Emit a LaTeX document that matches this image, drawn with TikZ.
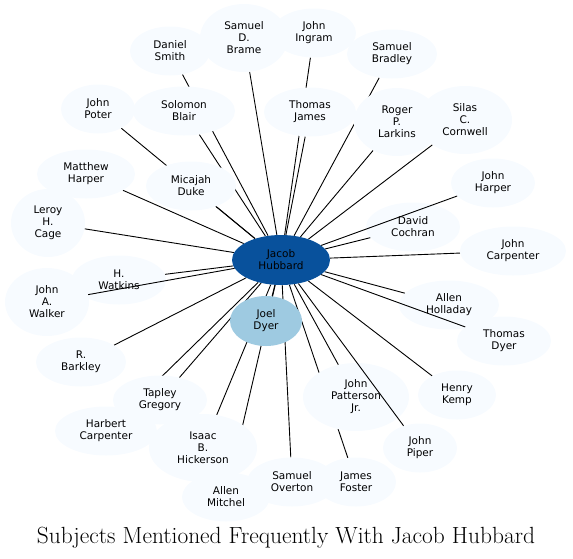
\documentclass[tikz,border=0pt]{standalone}
\usepackage{fontspec}
\setsansfont{DejaVu Sans}
\usetikzlibrary{shapes.geometric}
\pgfdeclarelayer{background}
\pgfsetlayers{background,main}
\definecolor{paleblue}{HTML}{F7FBFF}
\definecolor{hubblue}{HTML}{08519C}
\definecolor{joelblue}{HTML}{9ECAE1}

\begin{document}
\begin{tikzpicture}[
    x=1pt, y=-1pt,
    every node/.style={font=\sffamily\fontsize{10.5}{12}\selectfont},
    person/.style={ellipse, fill=paleblue, inner sep=0pt, align=center, minimum height=49},
    tall/.style={minimum height=68},
    link/.style={line width=0.9pt, black}
]
\useasboundingbox (0,0) rectangle (573,558);

% Nodes
\node[person, fill=hubblue, minimum width=98, minimum height=50] (hub) at (281,260) {Jacob\\Hubbard};
\node[person, fill=joelblue, minimum width=72, minimum height=50] (joel) at (266,321) {Joel\\Dyer};

\node[person, minimum width=80] (dsmith) at (170,51) {Daniel\\Smith};
\node[person, tall, minimum width=88] (brame) at (244,38) {Samuel\\D.\\Brame};
\node[person, minimum width=84] (ingram) at (314,33) {John\\Ingram};
\node[person, minimum width=90] (bradley) at (392,54) {Samuel\\Bradley};
\node[person, minimum width=74] (poter) at (98,109) {John\\Poter};
\node[person, minimum width=102] (blair) at (184,111) {Solomon\\Blair};
\node[person, minimum width=92] (tjames) at (310,112) {Thomas\\James};
\node[person, tall, minimum width=86] (larkins) at (397,122) {Roger\\P.\\Larkins};
\node[person, tall, minimum width=94] (cornwell) at (465,120) {Silas\\C.\\Cornwell};
\node[person, minimum width=98] (mharper) at (86,174) {Matthew\\Harper};
\node[person, minimum width=90] (duke) at (191,186) {Micajah\\Duke};
\node[person, minimum width=84] (jharper) at (493,183) {John\\Harper};
\node[person, tall, minimum width=74] (cage) at (48,223) {Leroy\\H.\\Cage};
\node[person, minimum width=94] (cochran) at (413,227) {David\\Cochran};
\node[person, minimum width=106] (jcarpenter) at (513,251) {John\\Carpenter};
\node[person, minimum width=94] (watkins) at (119,280) {H.\\Watkins};
\node[person, tall, minimum width=84] (walker) at (47,302) {John\\A.\\Walker};
\node[person, minimum width=100] (holladay) at (449,305) {Allen\\Holladay};
\node[person, minimum width=94] (tdyer) at (504,341) {Thomas\\Dyer};
\node[person, minimum width=90] (barkley) at (81,362) {R.\\Barkley};
\node[person, minimum width=94] (gregory) at (160,400) {Tapley\\Gregory};
\node[person, minimum width=102] (hcarpenter) at (106,431) {Harbert\\Carpenter};
\node[person, tall, minimum width=108] (hickerson) at (203,448) {Isaac\\B.\\Hickerson};
\node[person, minimum width=88] (mitchel) at (226,497) {Allen\\Mitchel};
\node[person, minimum width=90] (overton) at (292,482) {Samuel\\Overton};
\node[person, tall, minimum width=106] (patterson) at (356,397) {John\\Patterson\\Jr.};
\node[person, minimum width=78] (kemp) at (457,395) {Henry\\Kemp};
\node[person, minimum width=74] (piper) at (420,448) {John\\Piper};
\node[person, minimum width=80] (foster) at (356,482) {James\\Foster};

\node[font=\rmfamily\fontsize{23.4}{27}\selectfont, anchor=base] (title) at (286,543) {Subjects Mentioned Frequently With Jacob Hubbard};

% Paths (behind the nodes)
\begin{pgfonlayer}{background}
\draw[link] (hub) -- (joel);
\draw[link] (hub) -- (dsmith);
\draw[link] (hub) -- (brame);
\draw[link] (hub) -- (ingram);
\draw[link] (hub) -- (bradley);
\draw[link] (hub) -- (poter);
\draw[link] (hub) -- (blair);
\draw[link] (hub) -- (tjames);
\draw[link] (hub) -- (larkins);
\draw[link] (hub) -- (cornwell);
\draw[link] (hub) -- (mharper);
\draw[link] (hub) -- (duke);
\draw[link] (hub) -- (cage);
\draw[link] (hub) -- (cochran);
\draw[link] (hub) -- (jcarpenter);
\draw[link] (hub) -- (watkins);
\draw[link] (hub) -- (holladay);
\draw[link] (hub) -- (barkley);
\draw[link] (hub) -- (gregory);
\draw[link] (hub) -- (hcarpenter);
\draw[link] (hub) -- (hickerson);
\draw[link] (hub) -- (mitchel);
\draw[link] (hub) -- (overton);
\draw[link] (hub) -- (patterson);
\draw[link] (hub) -- (kemp);
\draw[link] (hub) -- (foster);
\end{pgfonlayer}

% Paths (over the nodes)
\draw[link] (hub) -- (jharper);
\draw[link] (hub) -- (walker);
\draw[link] (hub) -- (tdyer);
\draw[link] (hub) -- (piper);

\end{tikzpicture}
\end{document}
